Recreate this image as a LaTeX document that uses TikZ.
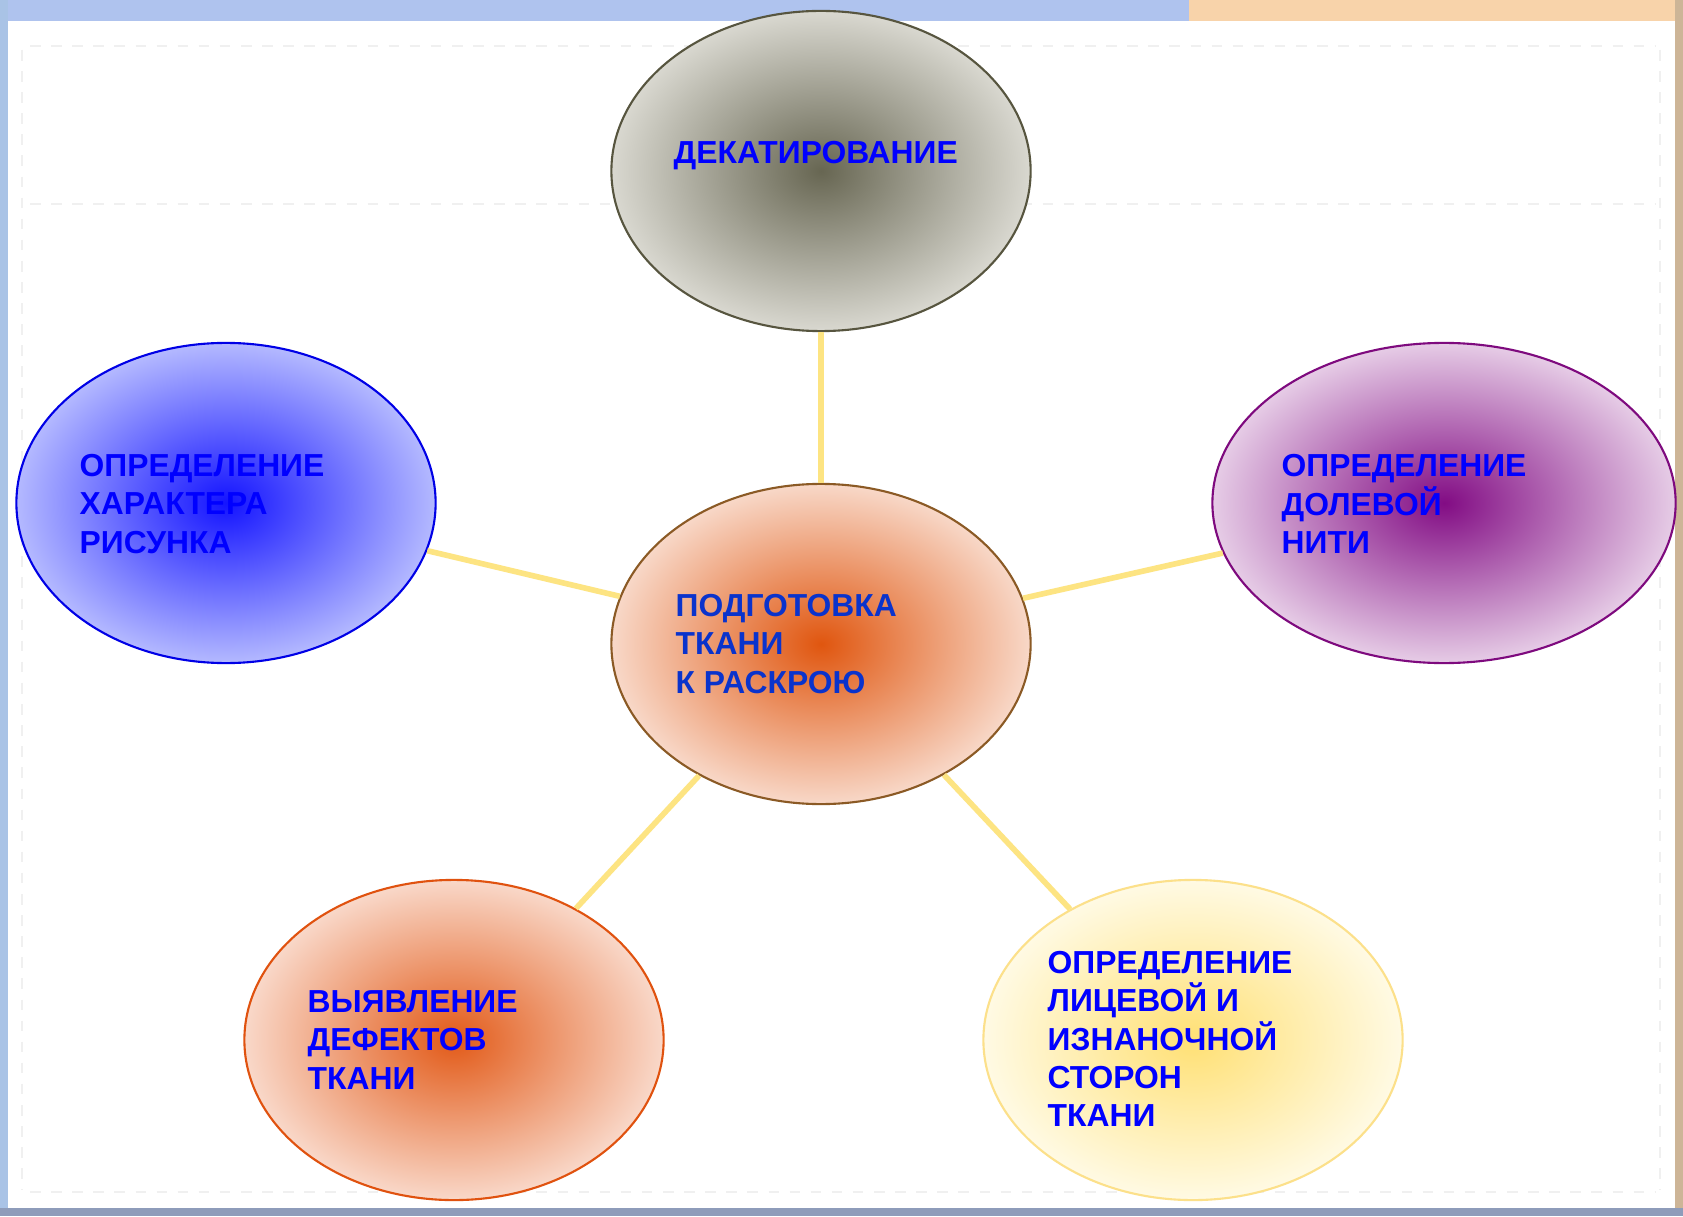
\documentclass[tikz,border=0pt]{standalone}
\usepackage{fontspec}
\setmainfont{Liberation Sans}
\usetikzlibrary{shapes.geometric}

\definecolor{txtblue}{HTML}{0000FF}
\definecolor{midblue}{HTML}{0A33CC}
\definecolor{linkyellow}{HTML}{FDE482}
\definecolor{barblue}{HTML}{AFC3EE}
\definecolor{barpeach}{HTML}{F8D3AA}
\definecolor{sideblue}{HTML}{A9C3E6}
\definecolor{sidetan}{HTML}{CDB597}
\definecolor{botgray}{HTML}{8E9CBA}
\definecolor{dekatIn}{HTML}{676652}
\definecolor{dekatOut}{HTML}{D9D8D0}
\definecolor{dekatLine}{HTML}{57553F}
\definecolor{podgIn}{HTML}{E0560F}
\definecolor{podgOut}{HTML}{F8D8C8}
\definecolor{podgLine}{HTML}{8B5A25}
\definecolor{risunIn}{HTML}{1414FF}
\definecolor{risunOut}{HTML}{B4B9FF}
\definecolor{risunLine}{HTML}{0000E6}
\definecolor{nitIn}{HTML}{820C84}
\definecolor{nitOut}{HTML}{E6CCE6}
\definecolor{nitLine}{HTML}{7E0A7E}
\definecolor{defekIn}{HTML}{E25A18}
\definecolor{defekOut}{HTML}{F9D8C9}
\definecolor{defekLine}{HTML}{E0520F}
\definecolor{storoIn}{HTML}{FFE074}
\definecolor{storoOut}{HTML}{FFFAE4}
\definecolor{storoLine}{HTML}{FCE08A}

\begin{document}
\begin{tikzpicture}[x=0.01cm,y=-0.01cm,
  blob/.style={ellipse,draw,line width=0.6pt,minimum width=4.19cm,minimum height=3.2cm,inner sep=0pt},
  txt/.style={anchor=west,align=left,inner sep=0pt,text=txtblue,font=\bfseries\fontsize{9.05}{10.9}\selectfont},
  link/.style={draw=linkyellow,line width=1.6pt}]
\useasboundingbox (0,0) rectangle (1683,1216);
\fill[white]    (0,0)    rectangle (1683,1216);
\fill[barblue]  (0,0)    rectangle (1189,21);
\fill[barpeach] (1189,0) rectangle (1683,21);
\fill[sideblue] (0,0)    rectangle (8,1216);
\fill[sidetan]  (1675,0) rectangle (1683,1216);
\fill[botgray]  (0,1208) rectangle (1683,1216);
\draw[gray!12,dashed,line width=0.8pt] (30,46) -- (1655,46);
\draw[gray!12,dashed,line width=0.8pt] (30,204) -- (1655,204);
\draw[gray!12,dashed,line width=0.8pt] (30,1192) -- (1655,1192);
\draw[gray!12,dashed,line width=0.8pt] (22,50) -- (22,1190);
\draw[gray!12,dashed,line width=0.8pt] (1660,50) -- (1660,1190);

\node[blob, draw=dekatLine, inner color=dekatIn, outer color=dekatOut] (dekat) at (821,171)  {};
\node[blob, draw=podgLine,  inner color=podgIn,  outer color=podgOut]  (podg)  at (821,644)  {};
\node[blob, draw=risunLine, inner color=risunIn, outer color=risunOut] (risun) at (226,503)  {};
\node[blob, draw=nitLine,   inner color=nitIn,   outer color=nitOut, minimum width=4.63cm] (nit) at (1444,503) {};
\node[blob, draw=defekLine, inner color=defekIn, outer color=defekOut] (defek) at (454,1040) {};
\node[blob, draw=storoLine, inner color=storoIn, outer color=storoOut] (storo) at (1193,1040) {};

\node[txt]                (dekatT) at (673,156)  {ДЕКАТИРОВАНИЕ};
\node[txt, text=midblue]  (podgT)  at (675,644)  {ПОДГОТОВКА\\ТКАНИ\\К РАСКРОЮ};
\node[txt]                (risunT) at (79,504)   {ОПРЕДЕЛЕНИЕ\\ХАРАКТЕРА\\РИСУНКА};
\node[txt]                (nitT)   at (1281,504) {ОПРЕДЕЛЕНИЕ\\ДОЛЕВОЙ\\НИТИ};
\node[txt]                (defekT) at (307,1040) {ВЫЯВЛЕНИЕ\\ДЕФЕКТОВ\\ТКАНИ};
\node[txt]                (storoT) at (1047,1039) {ОПРЕДЕЛЕНИЕ\\ЛИЦЕВОЙ И\\ИЗНАНОЧНОЙ\\СТОРОН\\ТКАНИ};

\draw[link] (podg) edge (dekat);
\draw[link] (podg) edge (risun);
\draw[link] (podg) edge (nit);
\draw[link] (podg) edge (defek);
\draw[link] (podg) edge (storo);
\end{tikzpicture}
\end{document}
